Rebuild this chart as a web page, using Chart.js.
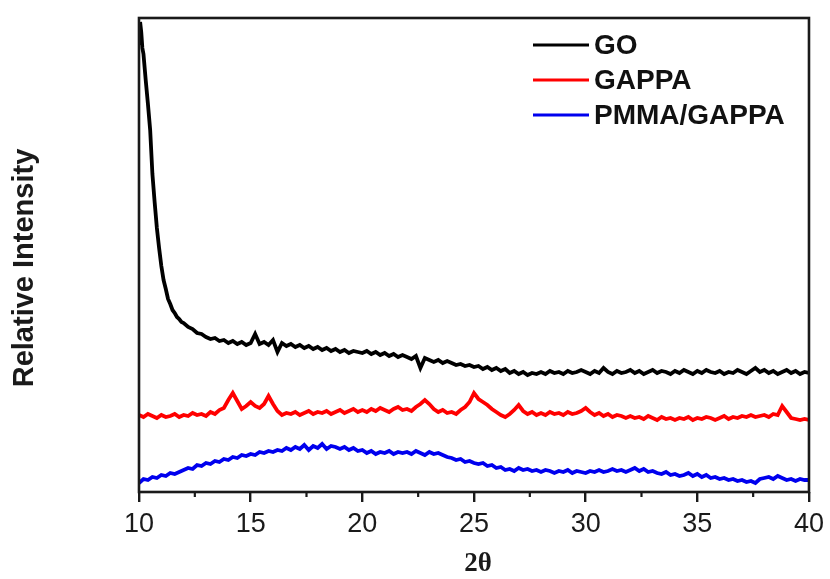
<!DOCTYPE html>
<html>
<head>
<meta charset="utf-8">
<script src="https://cdn.jsdelivr.net/npm/chart.js@4/dist/chart.umd.min.js"></script>
<style>
  html, body { margin: 0; padding: 0; background: #fff; }
  #wrap { width: 830px; height: 579px; position: relative; }
</style>
</head>
<body>
<div id="wrap"><canvas id="c" width="830" height="579"></canvas></div>
<script>
// ---- DATA ----
const seriesNames = ['GO', 'GAPPA', 'PMMA/GAPPA'];
const seriesColors = ['#000000', '#ff0000', '#0000ee'];
const xTickValues = [10, 15, 20, 25, 30, 35, 40];
const xMinorTickValues = [12.5, 17.5, 22.5, 27.5, 32.5, 37.5];

// GO: denser sampling at the steep start, then 0.2 deg steps
const goTwoTheta = [
  10.0, 10.05, 10.1, 10.15, 10.2, 10.3, 10.4, 10.5, 10.6, 10.7, 10.8, 10.9,
  11.0, 11.1, 11.2, 11.3, 11.4, 11.5, 11.6, 11.7, 11.8, 11.9, 12.0,
  12.2, 12.4, 12.6, 12.8, 13.0, 13.2, 13.4, 13.6, 13.8,
  14.0, 14.2, 14.4, 14.6, 14.8, 15.0, 15.2, 15.4, 15.6, 15.8,
  16.0, 16.2, 16.4, 16.6, 16.8, 17.0, 17.2, 17.4, 17.6, 17.8,
  18.0, 18.2, 18.4, 18.6, 18.8, 19.0, 19.2, 19.4, 19.6, 19.8,
  20.0, 20.2, 20.4, 20.6, 20.8, 21.0, 21.2, 21.4, 21.6, 21.8,
  22.0, 22.2, 22.4, 22.6, 22.8, 23.0, 23.2, 23.4, 23.6, 23.8,
  24.0, 24.2, 24.4, 24.6, 24.8, 25.0, 25.2, 25.4, 25.6, 25.8,
  26.0, 26.2, 26.4, 26.6, 26.8, 27.0, 27.2, 27.4, 27.6, 27.8,
  28.0, 28.2, 28.4, 28.6, 28.8, 29.0, 29.2, 29.4, 29.6, 29.8,
  30.0, 30.2, 30.4, 30.6, 30.8, 31.0, 31.2, 31.4, 31.6, 31.8,
  32.0, 32.2, 32.4, 32.6, 32.8, 33.0, 33.2, 33.4, 33.6, 33.8,
  34.0, 34.2, 34.4, 34.6, 34.8, 35.0, 35.2, 35.4, 35.6, 35.8,
  36.0, 36.2, 36.4, 36.6, 36.8, 37.0, 37.2, 37.4, 37.6, 37.8,
  38.0, 38.2, 38.4, 38.6, 38.8, 39.0, 39.2, 39.4, 39.6, 39.8,
  40.0
];
const goIntensity = [
  445, 468, 458, 442, 436, 410, 386, 360, 316, 288, 262, 242,
  224, 210, 201, 191, 186, 180, 177, 173, 171, 168, 167,
  163, 161, 157, 156, 153, 151, 152, 149, 150,
  147, 149, 146, 148, 145, 147, 156, 146, 148, 145,
  150, 138, 147, 144, 146, 143, 145, 142, 144, 141,
  143, 140, 142, 139, 141, 138, 140, 137, 139, 138,
  137, 139, 136, 138, 135, 137, 134, 136, 133, 135,
  133, 131, 134, 122, 132, 130, 128, 130, 127, 129,
  127, 125, 126, 124, 125, 123, 124, 121, 123, 120,
  122, 119, 121, 117, 119, 116, 118, 115, 117, 116,
  118, 116, 119, 117, 118, 116, 119, 117, 118, 120,
  118, 116, 119, 117, 122, 118, 116, 119, 117, 118,
  120, 117, 119, 116, 118, 120, 117, 119, 118, 116,
  119, 117, 120, 118, 116, 119, 117, 120, 118, 117,
  119, 116, 118, 117, 120, 118, 116, 119, 122, 118,
  120, 117, 119, 116, 118, 120, 117, 119, 116, 118,
  117
];

// GAPPA and PMMA/GAPPA: 0.2 deg steps
const twoTheta = [
  10.0, 10.2, 10.4, 10.6, 10.8, 11.0, 11.2, 11.4, 11.6, 11.8,
  12.0, 12.2, 12.4, 12.6, 12.8, 13.0, 13.2, 13.4, 13.6, 13.8,
  14.0, 14.2, 14.4, 14.6, 14.8, 15.0, 15.2, 15.4, 15.6, 15.8,
  16.0, 16.2, 16.4, 16.6, 16.8, 17.0, 17.2, 17.4, 17.6, 17.8,
  18.0, 18.2, 18.4, 18.6, 18.8, 19.0, 19.2, 19.4, 19.6, 19.8,
  20.0, 20.2, 20.4, 20.6, 20.8, 21.0, 21.2, 21.4, 21.6, 21.8,
  22.0, 22.2, 22.4, 22.6, 22.8, 23.0, 23.2, 23.4, 23.6, 23.8,
  24.0, 24.2, 24.4, 24.6, 24.8, 25.0, 25.2, 25.4, 25.6, 25.8,
  26.0, 26.2, 26.4, 26.6, 26.8, 27.0, 27.2, 27.4, 27.6, 27.8,
  28.0, 28.2, 28.4, 28.6, 28.8, 29.0, 29.2, 29.4, 29.6, 29.8,
  30.0, 30.2, 30.4, 30.6, 30.8, 31.0, 31.2, 31.4, 31.6, 31.8,
  32.0, 32.2, 32.4, 32.6, 32.8, 33.0, 33.2, 33.4, 33.6, 33.8,
  34.0, 34.2, 34.4, 34.6, 34.8, 35.0, 35.2, 35.4, 35.6, 35.8,
  36.0, 36.2, 36.4, 36.6, 36.8, 37.0, 37.2, 37.4, 37.6, 37.8,
  38.0, 38.2, 38.4, 38.6, 38.8, 39.0, 39.2, 39.4, 39.6, 39.8,
  40.0
];
const gappaIntensity = [
  75, 73, 76, 74, 72, 75, 73, 74, 76, 73,
  75, 74, 77, 75, 76, 74, 78, 76, 80, 82,
  90, 97, 89, 81, 84, 88, 84, 82, 86, 94,
  86, 79, 75, 77, 76, 78, 75, 77, 79, 76,
  78, 77, 79, 76, 78, 80, 77, 79, 81, 78,
  80, 78, 81, 79, 82, 80, 78, 81, 83, 80,
  81, 79, 83, 86, 90, 86, 81, 78, 80, 77,
  78, 76, 80, 83, 88, 97, 91, 88, 85, 81,
  78, 75, 73, 76, 80, 85, 79, 76, 78, 75,
  77, 75, 78, 76, 77, 75, 78, 76, 77, 79,
  82, 78, 75, 77, 74, 76, 73, 75, 74, 72,
  74, 72, 73, 71, 74, 72, 70, 73, 71, 72,
  70, 72, 71, 73, 70, 72, 71, 73, 72, 70,
  72, 74, 71, 73, 72, 74, 73, 75, 73, 74,
  75, 73, 76, 75, 84, 78, 72, 71, 70, 71,
  70
];
const pmmaGappaIntensity = [
  7, 11, 10, 13, 12, 15, 14, 17, 16, 18,
  20, 22, 21, 25, 24, 27, 26, 29, 28, 31,
  30, 33, 32, 35, 34, 36, 35, 38, 37, 39,
  38, 40, 39, 42, 40, 43, 41, 45, 40, 44,
  42, 46, 41, 44, 43, 41, 43, 40, 42, 39,
  40, 37, 39, 36, 38, 37, 39, 36, 38, 37,
  38, 36, 39, 37, 35, 38, 36, 37, 35, 33,
  32, 30, 31, 28, 29, 27, 26, 27, 24, 25,
  22, 23, 20, 21, 19, 22, 20, 21, 19, 20,
  18, 20, 19, 17, 19, 18, 20, 17, 19, 18,
  17, 19, 18, 20, 18, 19, 21, 19, 20, 18,
  20, 22, 19, 21, 18, 19, 17, 16, 18, 15,
  16, 14, 15, 17, 14, 16, 13, 15, 12, 13,
  11, 12, 10, 11, 9, 10, 8, 9, 7, 11,
  12, 13, 11, 14, 12, 10, 11, 9, 11, 10,
  10
];

// ---- build datasets ----
function pts(xs, ys) { return xs.map((x, i) => ({ x: x, y: ys[i] })); }
const datasets = [
  { label: seriesNames[0], data: pts(goTwoTheta, goIntensity) },
  { label: seriesNames[1], data: pts(twoTheta, gappaIntensity) },
  { label: seriesNames[2], data: pts(twoTheta, pmmaGappaIntensity) }
].map((d, i) => Object.assign(d, {
  borderColor: seriesColors[i],
  backgroundColor: seriesColors[i],
  borderWidth: 3.8,
  borderJoinStyle: 'miter',
  pointRadius: 0,
  tension: 0,
  fill: false
}));

const SANS = "'Liberation Sans', Arial, sans-serif";
const SERIF = "'Liberation Serif', 'Times New Roman', serif";

const decor = {
  id: 'decor',
  afterDraw(chart) {
    const ctx = chart.ctx;
    const a = chart.chartArea;
    const xs = chart.scales.x;
    ctx.save();
    // frame
    ctx.strokeStyle = '#1a1a1a';
    ctx.lineWidth = 2.6;
    ctx.strokeRect(a.left, a.top, a.right - a.left, a.bottom - a.top);
    // minor ticks
    ctx.lineWidth = 2.2;
    xMinorTickValues.forEach(v => {
      const px = xs.getPixelForValue(v);
      ctx.beginPath();
      ctx.moveTo(px, a.bottom);
      ctx.lineTo(px, a.bottom + 5);
      ctx.stroke();
    });
    // y title
    ctx.fillStyle = '#1a1a1a';
    ctx.font = 'bold 29px ' + SANS;
    ctx.textAlign = 'center';
    ctx.textBaseline = 'middle';
    ctx.translate(25, 268);
    ctx.rotate(-Math.PI / 2);
    ctx.fillText('Relative Intensity', 0, 0);
    ctx.restore();

    // x title
    ctx.save();
    ctx.fillStyle = '#1a1a1a';
    ctx.font = 'bold 27px ' + SERIF;
    ctx.textAlign = 'center';
    ctx.textBaseline = 'middle';
    ctx.fillText('2θ', 478, 564);
    ctx.restore();

    // legend
    ctx.save();
    const rows = [45, 80, 115];
    chart.data.datasets.forEach((ds, i) => {
      const y = rows[i];
      ctx.strokeStyle = ds.borderColor;
      ctx.lineWidth = 3;
      ctx.beginPath();
      ctx.moveTo(533, y);
      ctx.lineTo(589, y);
      ctx.stroke();
      ctx.fillStyle = '#111';
      ctx.font = 'bold 28px ' + SANS;
      ctx.textAlign = 'left';
      ctx.textBaseline = 'middle';
      ctx.fillText(ds.label, 594, y + 1);
    });
    ctx.restore();
  }
};

new Chart(document.getElementById('c'), {
  type: 'line',
  data: { datasets: datasets },
  options: {
    responsive: false,
    animation: false,
    events: [],
    layout: { padding: { left: 0, right: 19, top: 18, bottom: 0 } },
    plugins: { legend: { display: false }, tooltip: { enabled: false } },
    scales: {
      x: {
        type: 'linear',
        min: 10, max: 40,
        afterFit(s) { s.height = 87; },
        afterBuildTicks(s) { s.ticks = xTickValues.map(v => ({ value: v })); },
        ticks: {
          color: '#1a1a1a',
          font: { family: SANS, size: 27 },
          padding: 6,
          maxRotation: 0,
          autoSkip: false
        },
        grid: {
          display: true,
          drawOnChartArea: false,
          drawTicks: true,
          tickLength: 10,
          color: '#1a1a1a',
          lineWidth: 2.4
        },
        border: { display: false }
      },
      y: {
        type: 'linear',
        min: -2, max: 472,
        afterFit(s) { s.width = 139; },
        ticks: { display: false },
        grid: { display: false, drawTicks: false },
        border: { display: false }
      }
    }
  },
  plugins: [decor]
});
</script>
</body>
</html>
